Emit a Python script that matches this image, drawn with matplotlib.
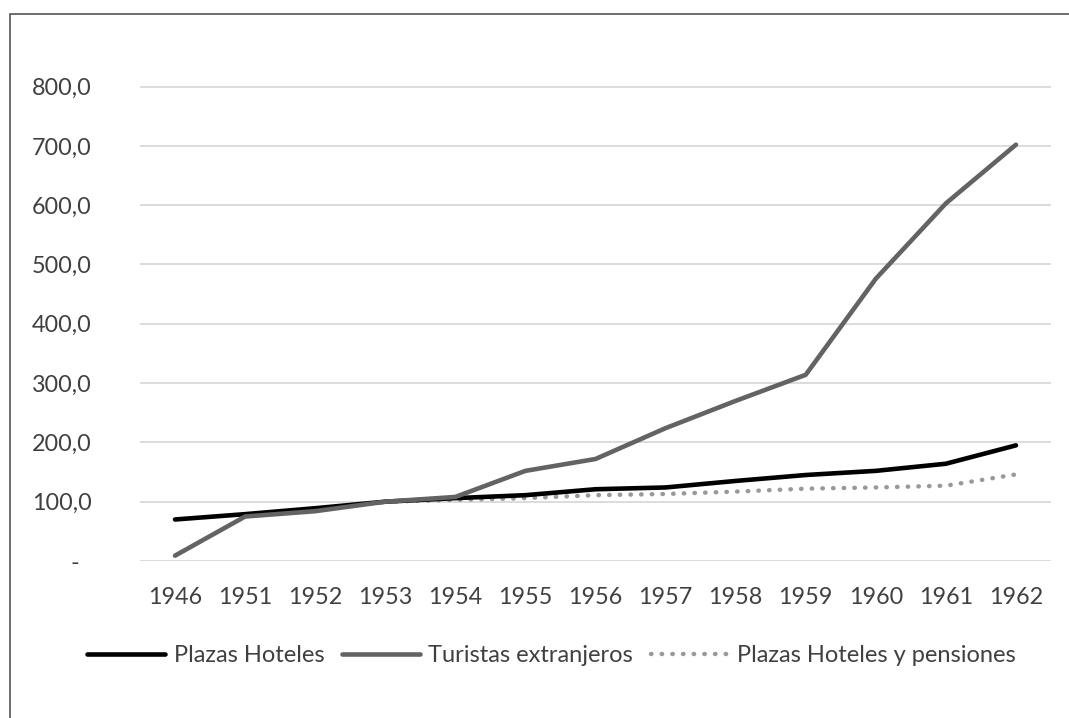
import numpy as np
import matplotlib.pyplot as plt
from matplotlib.patches import Rectangle

plt.rcParams['font.family'] = ['Lato', 'DejaVu Sans']

# Data (index numbers, 1953 = 100)
years = ['1946', '1951', '1952', '1953', '1954', '1955', '1956',
         '1957', '1958', '1959', '1960', '1961', '1962']
plazas_hoteles = [70, 79, 89, 100, 106, 111, 121, 124, 135, 145, 152, 164, 195]
turistas = [9, 75, 84, 100, 108, 152, 172, 224, 270, 314, 476, 603, 702]
plazas_pensiones = [None, None, None, 100, 103, 106, 111, 113, 117, 122, 124, 127, 146]
yticks = [0, 100, 200, 300, 400, 500, 600, 700, 800]
ytick_labels = ['-  ', '100,0', '200,0', '300,0', '400,0', '500,0',
                '600,0', '700,0', '800,0']

text_color = '#404040'

fig = plt.figure(figsize=(10.69, 7.18), dpi=100)
ax = fig.add_axes([140 / 1069, 157 / 718, 911 / 1069, (561 - 74.7) / 718])

x = np.arange(len(years))
pens = np.array([np.nan if v is None else v for v in plazas_pensiones], dtype=float)

ax.plot(x, plazas_hoteles, color='#000000', lw=3.3, solid_capstyle='round',
        label='Plazas Hoteles', zorder=3)
ax.plot(x, turistas, color='#636363', lw=3.3, solid_capstyle='round',
        label='Turistas extranjeros', zorder=4)
ax.plot(x, pens, color='#999999', lw=3.2, linestyle=(0, (0.1, 2.3)),
        dash_capstyle='round', label='Plazas Hoteles y pensiones', zorder=2)

ax.set_xlim(-0.5, len(years) - 0.5)
ax.set_ylim(0, 820)
ax.set_xticks(x)
ax.set_xticklabels(years)
ax.set_yticks(yticks)
ax.set_yticklabels(ytick_labels)
ax.tick_params(axis='both', length=0, labelsize=16.8, labelcolor=text_color)
ax.tick_params(axis='y', pad=35)
ax.tick_params(axis='x', pad=19)
ax.grid(axis='y', color='#d9d9d9', lw=1.3)
ax.set_axisbelow(True)
for s in ax.spines.values():
    s.set_visible(False)

leg = fig.legend(loc='center', bbox_to_anchor=(551.5 / 1069, 1 - 656 / 718),
                 ncol=3, frameon=False, fontsize=17, handlelength=3.3,
                 handletextpad=0.35, columnspacing=0.75)
for t in leg.get_texts():
    t.set_color(text_color)

# outer frame (only top and left edges visible in the original)
fig.patches.append(Rectangle((10 / 1069, -0.1), 1.2, 1.1 - 14 / 718,
                             transform=fig.transFigure, fill=False,
                             edgecolor='#555555', lw=1.2))

fig.savefig('out.png', dpi=100)
